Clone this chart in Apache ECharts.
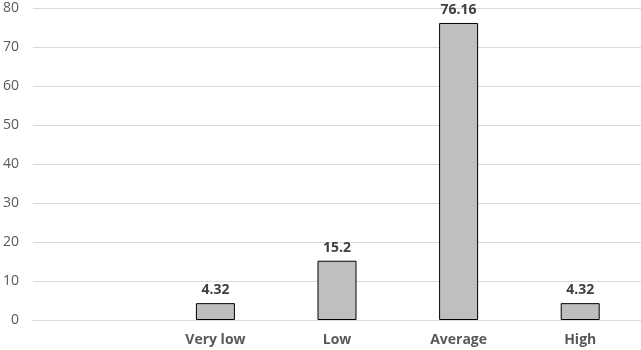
<!DOCTYPE html>
<html><head><meta charset="utf-8">
<script src="https://cdn.jsdelivr.net/npm/echarts@6/dist/echarts.min.js"></script>
<style>html,body{margin:0;padding:0;background:#fff;}#c{width:641px;height:350px;}</style>
</head><body><div id="c"></div>
<script>
const categories = ['', 'Very low', 'Low', 'Average', 'High'];
const values = [null, 4.32, 15.2, 76.16, 4.32];
const yTicks = [0, 10, 20, 30, 40, 50, 60, 70, 80];

const chart = echarts.init(document.getElementById('c'), null, {renderer: 'canvas'});
chart.setOption({
  animation: false,
  grid: {left: 32, top: 8, width: 610, height: 312, containLabel: false},
  xAxis: {
    type: 'category', data: categories,
    axisLine: {show: true, lineStyle: {color: '#d9d9d9', width: 1}},
    axisTick: {show: false},
    axisLabel: {color: '#595959', fontFamily: 'Open Sans', fontWeight: 'bold', fontSize: 14, margin: 13}
  },
  yAxis: {
    type: 'value', min: yTicks[0], max: yTicks[yTicks.length - 1], interval: 10,
    axisLine: {show: false}, axisTick: {show: false},
    splitLine: {lineStyle: {color: '#d9d9d9', width: 1}},
    axisLabel: {color: '#595959', fontFamily: 'Open Sans', fontSize: 14, margin: 14}
  },
  series: [{
    type: 'bar', data: values, barWidth: 39,
    itemStyle: {color: '#bfbfbf', borderColor: '#000', borderWidth: 1},
    label: {show: true, position: 'top', distance: 6, color: '#404040', fontFamily: 'Open Sans', fontWeight: 'bold', fontSize: 14}
  }]
});
</script></body></html>
